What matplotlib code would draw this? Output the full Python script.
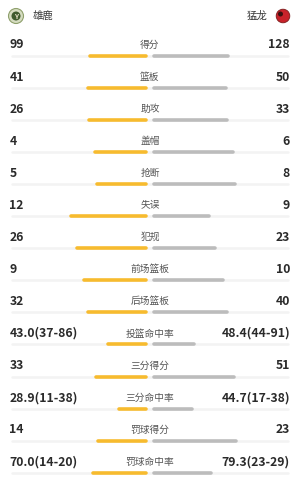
import matplotlib
matplotlib.use("Agg")
import matplotlib.pyplot as plt
from matplotlib.patches import Circle

plt.rcParams['font.family'] = ['Noto Sans CJK SC', 'DejaVu Sans']

home_team = "雄鹿"
away_team = "猛龙"

categories = ["得分", "篮板", "助攻", "盖帽", "抢断", "失误", "犯规",
              "前场篮板", "后场篮板", "投篮命中率", "三分得分", "三分命中率",
              "罚球得分", "罚球命中率"]
home_values = [99, 41, 26, 4, 5, 12, 26, 9, 32, 43.0, 33, 28.9, 14, 70.0]
away_values = [128, 50, 33, 6, 8, 9, 23, 10, 40, 48.4, 51, 44.7, 23, 79.3]
home_labels = ["99", "41", "26", "4", "5", "12", "26", "9", "32",
               "43.0(37-86)", "33", "28.9(11-38)", "14", "70.0(14-20)"]
away_labels = ["128", "50", "33", "6", "8", "9", "23", "10", "40",
               "48.4(44-91)", "51", "44.7(17-38)", "23", "79.3(23-29)"]
# bar shares (fraction of full bar span) for percentage rows
pct_home_share = {9: 0.30, 11: 0.22, 13: 0.41}
pct_away_share = {9: 0.32, 11: 0.30, 13: 0.44}

W, H = 300, 480
fig = plt.figure(figsize=(W / 100, H / 100), dpi=100)
ax = fig.add_axes([0, 0, 1, 1])
ax.set_xlim(0, W)
ax.set_ylim(H, 0)
ax.axis('off')

orange = '#f7bb2e'
grey = '#bcbcbc'
track = '#f3f3f3'
center = 150
gap = 2
span = 138
lw_px = 3.6
lw = lw_px * 0.72
r = lw_px / 2

# header
ax.add_patch(Circle((16, 16), 7.5, facecolor='#d5dcc0', edgecolor='#8fa06c', lw=0.8))
ax.add_patch(Circle((16, 16), 4.5, facecolor='#3e5a2c', edgecolor='none'))
ax.text(16, 16.5, "Y", ha='center', va='center', fontsize=5, color='#e8e4c9', fontweight='bold')
ax.text(33, 16, home_team, ha='left', va='center', fontsize=7.5, color='#3a3a3a')
ax.add_patch(Circle((283, 16), 6.8, facecolor='#c8222a', edgecolor='#7a1a1a', lw=0.6))
ax.add_patch(Circle((280.5, 14), 2.5, facecolor='#3a1010', edgecolor='none'))
ax.text(267, 16, away_team, ha='right', va='center', fontsize=7.5, color='#3a3a3a')

row0 = 45
step = 32.05
for i, cat in enumerate(categories):
    y = row0 + i * step
    yb = y + 11
    ax.text(9.5, y, home_labels[i], ha='left', va='center', fontsize=8.8,
            color='#2a2a2a', fontweight='bold')
    ax.text(290, y, away_labels[i], ha='right', va='center', fontsize=8.8,
            color='#2a2a2a', fontweight='bold')
    ax.text(center, y, cat, ha='center', va='center', fontsize=7, color='#555555')
    ax.plot([10 + r, 290 - r], [yb, yb], color=track, lw=lw * 0.7,
            solid_capstyle='round', zorder=1)
    if i in pct_home_share:
        hs = pct_home_share[i]
        aw = pct_away_share[i]
    else:
        tot = home_values[i] + away_values[i]
        hs = home_values[i] / tot
        aw = away_values[i] / tot
    hl = hs * span
    al = aw * span
    ax.plot([center - gap - hl + r, center - gap - r], [yb, yb], color=orange,
            lw=lw, solid_capstyle='round', zorder=2)
    ax.plot([center + gap + r, center + gap + al - r], [yb, yb], color=grey,
            lw=lw, solid_capstyle='round', zorder=2)

fig.savefig('out.png', dpi=100, facecolor='white')
